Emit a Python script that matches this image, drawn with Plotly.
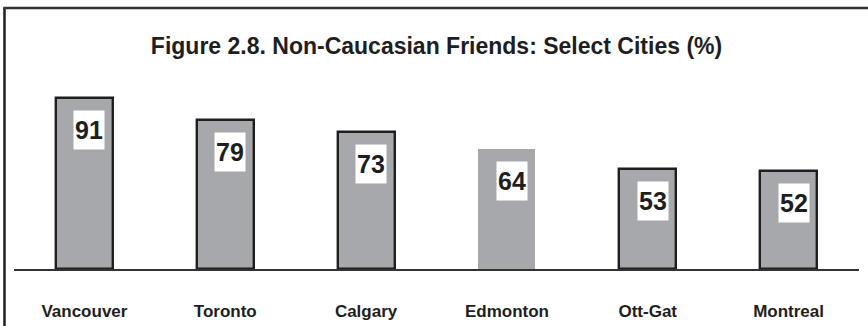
import plotly.graph_objects as go

# Share of respondents with non-Caucasian friends, by city (%)
cities = ["Vancouver", "Toronto", "Calgary", "Edmonton", "Ott-Gat", "Montreal"]
shares = [91, 79, 73, 64, 53, 52]
outlined = [True, True, True, False, True, True]

title_text = "Figure 2.8. Non-Caucasian Friends: Select Cities (%)"

BAR_FILL = "#a7a8ab"
INK = "#1e1e1e"
FONT = "Liberation Sans, Arial, sans-serif"

W, H = 868, 326
M_L, M_R, M_T, M_B = 14, 9, 0, 57
plot_w = W - M_L - M_R
plot_h = H - M_T - M_B

fig = go.Figure()
fig.add_trace(go.Bar(
    x=cities,
    y=shares,
    width=0.405,
    marker=dict(
        color=BAR_FILL,
        line=dict(color=[INK if o else BAR_FILL for o in outlined],
                  width=[2.4 if o else 0 for o in outlined]),
    ),
    hoverinfo="skip",
))

# value labels in white boxes near the top of each bar
for c, v in zip(cities, shares):
    fig.add_annotation(
        x=c, y=v, xref="x", yref="y",
        text=f"<b>{v}</b>",
        showarrow=False,
        xanchor="center", yanchor="top",
        xshift=5, yshift=-12,
        width=30, height=38, borderpad=0,
        bgcolor="white", valign="middle",
        font=dict(family=FONT, size=25, color=INK),
    )

# frame: left and top rules
px2x = lambda px: (px - M_L) / plot_w
py2y = lambda py: 1 - (py - M_T) / plot_h
fig.add_shape(type="line", xref="paper", yref="paper",
              x0=px2x(4.5), x1=px2x(4.5), y0=py2y(7.5), y1=py2y(340),
              line=dict(color=INK, width=2.5))
fig.add_shape(type="line", xref="paper", yref="paper",
              x0=px2x(3.3), x1=px2x(880), y0=py2y(8), y1=py2y(8),
              line=dict(color="#333333", width=2.5))

fig.update_layout(
    width=W, height=H,
    margin=dict(l=M_L, r=M_R, t=M_T, b=M_B),
    paper_bgcolor="white", plot_bgcolor="white",
    showlegend=False,
    bargap=0,
    title=dict(text=f"<b>{title_text}</b>", x=0.5, xref="paper",
               y=1 - 46 / H, yref="container", xanchor="center", yanchor="middle",
               font=dict(family=FONT, size=23, color=INK)),
    xaxis=dict(
        showline=True, linecolor="#333333", linewidth=1.6,
        showgrid=False, zeroline=False, ticks="",
        tickfont=dict(family=FONT, size=17, color=INK),
        ticklabelstandoff=26,
        fixedrange=True,
    ),
    yaxis=dict(
        range=[0, plot_h / 1.88],
        visible=False, showgrid=False, zeroline=False, fixedrange=True,
    ),
)
fig.update_xaxes(tickprefix="<b>", ticksuffix="</b>")

fig.write_html("out.html")
